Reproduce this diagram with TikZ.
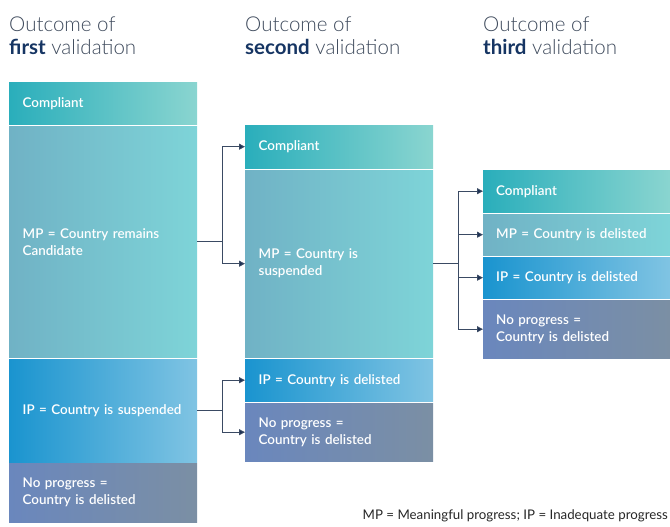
\documentclass[tikz,border=0pt]{standalone}
\usepackage{fontspec}
\setmainfont{Lato}
\newfontfamily\hdlight{Lato Light}
\newfontfamily\semib{Lato Semibold}
\usetikzlibrary{arrows.meta}
\definecolor{hdgray}{HTML}{3E4A5C}
\definecolor{hdnavy}{HTML}{163563}
\definecolor{linec}{HTML}{3A4A63}
\definecolor{tipc}{HTML}{1B2F55}
\definecolor{cL}{HTML}{2AAEBB}
\definecolor{cR}{HTML}{8AD5D0}
\definecolor{mL}{HTML}{70B2C5}
\definecolor{mR}{HTML}{7ED4D8}
\definecolor{iL}{HTML}{1A94CF}
\definecolor{iR}{HTML}{80C4E3}
\definecolor{nL}{HTML}{6A87BD}
\definecolor{nR}{HTML}{7B8FA4}
\tikzset{
  box/.style={anchor=north west, inner xsep=13pt, inner ysep=0pt, align=left,
    text width=161pt, text=white, font=\fontsize{13.4}{17}\selectfont\semib},
  cbox/.style={box, left color=cL, right color=cR},
  mbox/.style={box, left color=mL, right color=mR},
  ibox/.style={box, left color=iL, right color=iR},
  nbox/.style={box, left color=nL, right color=nR},
  hdr/.style={anchor=base west, inner sep=0pt, text=hdgray, font=\fontsize{20.5}{24}\selectfont\hdlight},
  conn/.style={draw=linec, line width=0.9pt},
  arr/.style={conn, -{Triangle[width=6pt,length=6pt,fill=tipc]}},
}
\begin{document}
\begin{tikzpicture}[x=1pt,y=-1pt]
\useasboundingbox (0,0) rectangle (670,527);
% headers
\node[hdr] (h1a) at (9,32) {Outcome of};
\node[hdr] (h1b) at (9,55) {\textcolor{hdnavy}{\normalfont\bfseries first} validation};
\node[hdr] (h2a) at (245,32) {Outcome of};
\node[hdr] (h2b) at (245,55) {\textcolor{hdnavy}{\normalfont\bfseries second} validation};
\node[hdr] (h3a) at (483,32) {Outcome of};
\node[hdr] (h3b) at (483,55) {\textcolor{hdnavy}{\normalfont\bfseries third} validation};
% column 1
\node[cbox, minimum width=188pt, minimum height=42pt] (c1) at (9,82) {Compliant};
\node[mbox, minimum width=188pt, minimum height=231pt] (m1) at (9,126) {MP = Country remains\\Candidate};
\node[ibox, minimum width=188pt, minimum height=103pt] (i1) at (9,359) {IP = Country is suspended};
\node[nbox, minimum width=188pt, minimum height=59pt] (n1) at (9,463) {No progress =\\Country is delisted};
% column 2
\node[cbox, minimum width=188pt, minimum height=43pt] (c2) at (245,125) {Compliant};
\node[mbox, minimum width=188pt, minimum height=187pt] (m2) at (245,170) {MP = Country is\\suspended};
\node[ibox, minimum width=188pt, minimum height=42pt] (i2) at (245,359) {IP = Country is delisted};
\node[nbox, minimum width=188pt, minimum height=58pt] (n2) at (245,403) {No progress =\\Country is delisted};
% column 3
\node[cbox, minimum width=187pt, minimum height=42pt] (c3) at (483,170) {Compliant};
\node[mbox, minimum width=187pt, minimum height=41pt] (m3) at (483,214) {MP = Country is delisted};
\node[ibox, minimum width=187pt, minimum height=41pt] (i3) at (483,257) {IP = Country is delisted};
\node[nbox, minimum width=187pt, minimum height=58pt] (n3) at (483,300) {No progress =\\Country is delisted};
% connectors
\draw[conn] (m1.east) -- ++(25,0) coordinate (j1);
\draw[arr] (j1) |- (c2.west);
\draw[arr] (j1) |- (m2.west);
\draw[conn] (i1.east) -- ++(25,0) coordinate (j2);
\draw[arr] (j2) |- (i2.west);
\draw[arr] (j2) |- (n2.west);
\draw[conn] (m2.east) -- ++(25,0) coordinate (j3);
\draw[arr] (j3) |- (c3.west);
\draw[arr] (j3) |- (m3.west);
\draw[arr] (j3) |- (i3.west);
\draw[arr] (j3) |- (n3.west);
% footnote
\node[anchor=east, inner sep=0pt, text=black!85, font=\fontsize{13.3}{15}\selectfont] (fn) at (668,516) {MP = Meaningful progress; IP = Inadequate progress};
\end{tikzpicture}
\end{document}
